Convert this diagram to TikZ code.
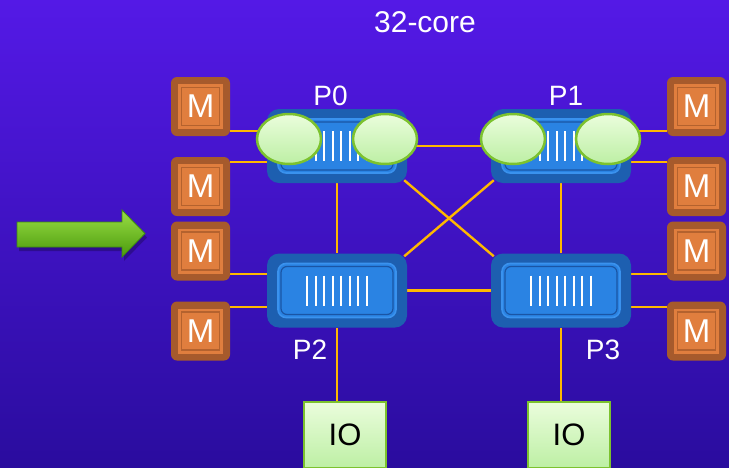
\documentclass[tikz,border=0pt]{standalone}
\usepackage{fontspec}
\setmainfont{Liberation Sans}
\usetikzlibrary{shapes.geometric,calc}
\pgfdeclarelayer{back}
\pgfdeclarelayer{wires}
\pgfsetlayers{back,wires,main}
\definecolor{bgtop}{HTML}{5419E6}
\definecolor{bgmid}{HTML}{3D12C9}
\definecolor{bgbot}{HTML}{2A0C9E}
\definecolor{mbrown}{HTML}{A65A2C}
\definecolor{morange}{HTML}{E07E3E}
\definecolor{mline}{HTML}{B4622E}
\definecolor{pdark}{HTML}{1D5FB0}
\definecolor{pmid}{HTML}{2A83E3}
\definecolor{plight}{HTML}{3A92EE}
\definecolor{pdark2}{HTML}{1A55A5}
\definecolor{egreen}{HTML}{7CC22E}
\definecolor{elight}{HTML}{EAFDDC}
\definecolor{edark}{HTML}{BDEFA4}
\definecolor{wire}{HTML}{FFB800}
\definecolor{arrtop}{HTML}{9ADE45}
\definecolor{arrmid}{HTML}{66BB18}
\definecolor{arrbot}{HTML}{4A9A0C}
\definecolor{arredge}{HTML}{3D8A10}
\newcommand\Mbx[3]{%
  \node[mout] (#1) at (#2,#3) {};
  \node[minA] at (#1.center) {};
  \node[minB] at (#1.center) {M};}
\newcommand\Proc[3]{%
  \node[pout] (#1) at (#2,#3) {};
  \node[pinA] at (#1.center) {};
  \node[pinB] at (#1.center) {};
  \foreach \i in {0,...,7}
    \draw[bar] ($(#1.center)+({(\i-3.5)*8.5},-15)$) -- ++(0,30);}
\begin{document}
\begin{tikzpicture}[x=1pt,y=-1pt,
  mout/.style={rectangle, rounded corners=6pt, fill=mbrown, minimum width=59pt, minimum height=59pt, inner sep=0pt},
  minA/.style={rectangle, fill=morange, minimum size=45pt, inner sep=0pt},
  minB/.style={rectangle, draw=mline, line width=1.6pt, minimum size=38pt, inner sep=0pt, text=white, font=\fontsize{33}{33}\selectfont},
  pout/.style={rectangle, rounded corners=12pt, fill=pdark, minimum width=140pt, minimum height=74pt, inner sep=0pt},
  pinA/.style={rectangle, rounded corners=8pt, fill=pmid, draw=plight, line width=1.6pt, minimum width=118pt, minimum height=54pt, inner sep=0pt},
  pinB/.style={rectangle, rounded corners=6pt, draw=pdark2, line width=1.2pt, minimum width=112pt, minimum height=48pt, inner sep=0pt},
  bar/.style={draw=white, line width=1.7pt},
  core/.style={ellipse, minimum width=64pt, minimum height=50pt, inner sep=0pt, draw=egreen, line width=2.5pt, top color=elight, bottom color=edark},
  iobox/.style={rectangle, minimum width=82pt, minimum height=66pt, inner sep=0pt, draw=egreen, line width=2pt, top color=elight, bottom color=edark, font=\fontsize{31}{31}\selectfont},
  lbl/.style={text=white, font=\fontsize{28}{28}\selectfont, inner sep=0pt},
  wireline/.style={draw=wire, line width=2.4pt}]
\useasboundingbox (0,0) rectangle (729,467);
\begin{pgfonlayer}{back}
\shade[top color=bgtop, middle color=bgmid, bottom color=bgbot] (0,0) rectangle (729,467);
\end{pgfonlayer}

% title
\node[text=white, font=\fontsize{30}{30}\selectfont, inner sep=0pt] (title) at (425,22.5) {32-core};

% memory boxes
\Mbx{ML1}{200.5}{106.5}
\Mbx{ML2}{200.5}{186.5}
\Mbx{ML3}{200.5}{251}
\Mbx{ML4}{200.5}{331}
\Mbx{MR1}{696.5}{106.5}
\Mbx{MR2}{696.5}{186.5}
\Mbx{MR3}{696.5}{251}
\Mbx{MR4}{696.5}{331}

% processors
\Proc{P0}{337}{146}
\Proc{P1}{561}{146}
\Proc{P2}{337}{290.5}
\Proc{P3}{561}{290.5}

% cores
\node[core] (C0a) at (289,139) {};
\node[core] (C0b) at (385,139) {};
\node[core] (C1a) at (513,139) {};
\node[core] (C1b) at (608,139) {};

% IO boxes
\node[iobox] (IO1) at (345,435) {IO};
\node[iobox] (IO2) at (569,435) {IO};

% labels
\node[lbl] (L0) at (330.5,95.5) {P0};
\node[lbl] (L1) at (566,95.5) {P1};
\node[lbl] (L2) at (310,350) {P2};
\node[lbl] (L3) at (603,350) {P3};

% wires (under the boxes)
\begin{pgfonlayer}{wires}
\coordinate (l1) at ([yshift=-24.5pt]ML1.east);
\coordinate (l2) at ([yshift=24.5pt]ML2.east);
\coordinate (l3) at ([yshift=-23pt]ML3.east);
\coordinate (l4) at ([yshift=24pt]ML4.east);
\coordinate (r1) at ([yshift=-24.5pt]MR1.west);
\coordinate (r2) at ([yshift=24.5pt]MR2.west);
\coordinate (r3) at ([yshift=-23pt]MR3.west);
\coordinate (r4) at ([yshift=24pt]MR4.west);
\draw[wireline] (l1) -- (l1 -| C0a);
\draw[wireline] (l2) -- (l2 -| P0);
\draw[wireline] (l3) -- (l3 -| P2);
\draw[wireline] (l4) -- (l4 -| P2);
\draw[wireline] (r1) -- (r1 -| C1b);
\draw[wireline] (r2) -- (r2 -| P1);
\draw[wireline] (r3) -- (r3 -| P3);
\draw[wireline] (r4) -- (r4 -| P3);
\draw[wireline] (P0) -- (P1);
\draw[wireline] (P2) -- (P3);
\draw[wireline] (P0) -- (P2);
\draw[wireline] (P1) -- (P3);
\draw[wireline] ([shift={(-3,-3)}]P0.south east) -- ([shift={(3,3)}]P3.north west);
\draw[wireline] ([shift={(3,-3)}]P1.south west) -- ([shift={(-3,3)}]P2.north east);
\draw[wireline] (P2) -- (P2 |- IO1.north);
\draw[wireline] (P3) -- (P3 |- IO2.north);
\end{pgfonlayer}

% green arrow
\fill[black, opacity=0.25] (19,226) -- (124,226) -- (124,214) -- (147,237.5) -- (124,261) -- (124,251) -- (19,251) -- cycle;
\shade[top color=arrtop, middle color=arrmid, bottom color=arrbot, draw=arredge, line width=0.8pt]
  (17,222) -- (122,222) -- (122,210) -- (145,233.5) -- (122,257) -- (122,247) -- (17,247) -- cycle;
\end{tikzpicture}
\end{document}
